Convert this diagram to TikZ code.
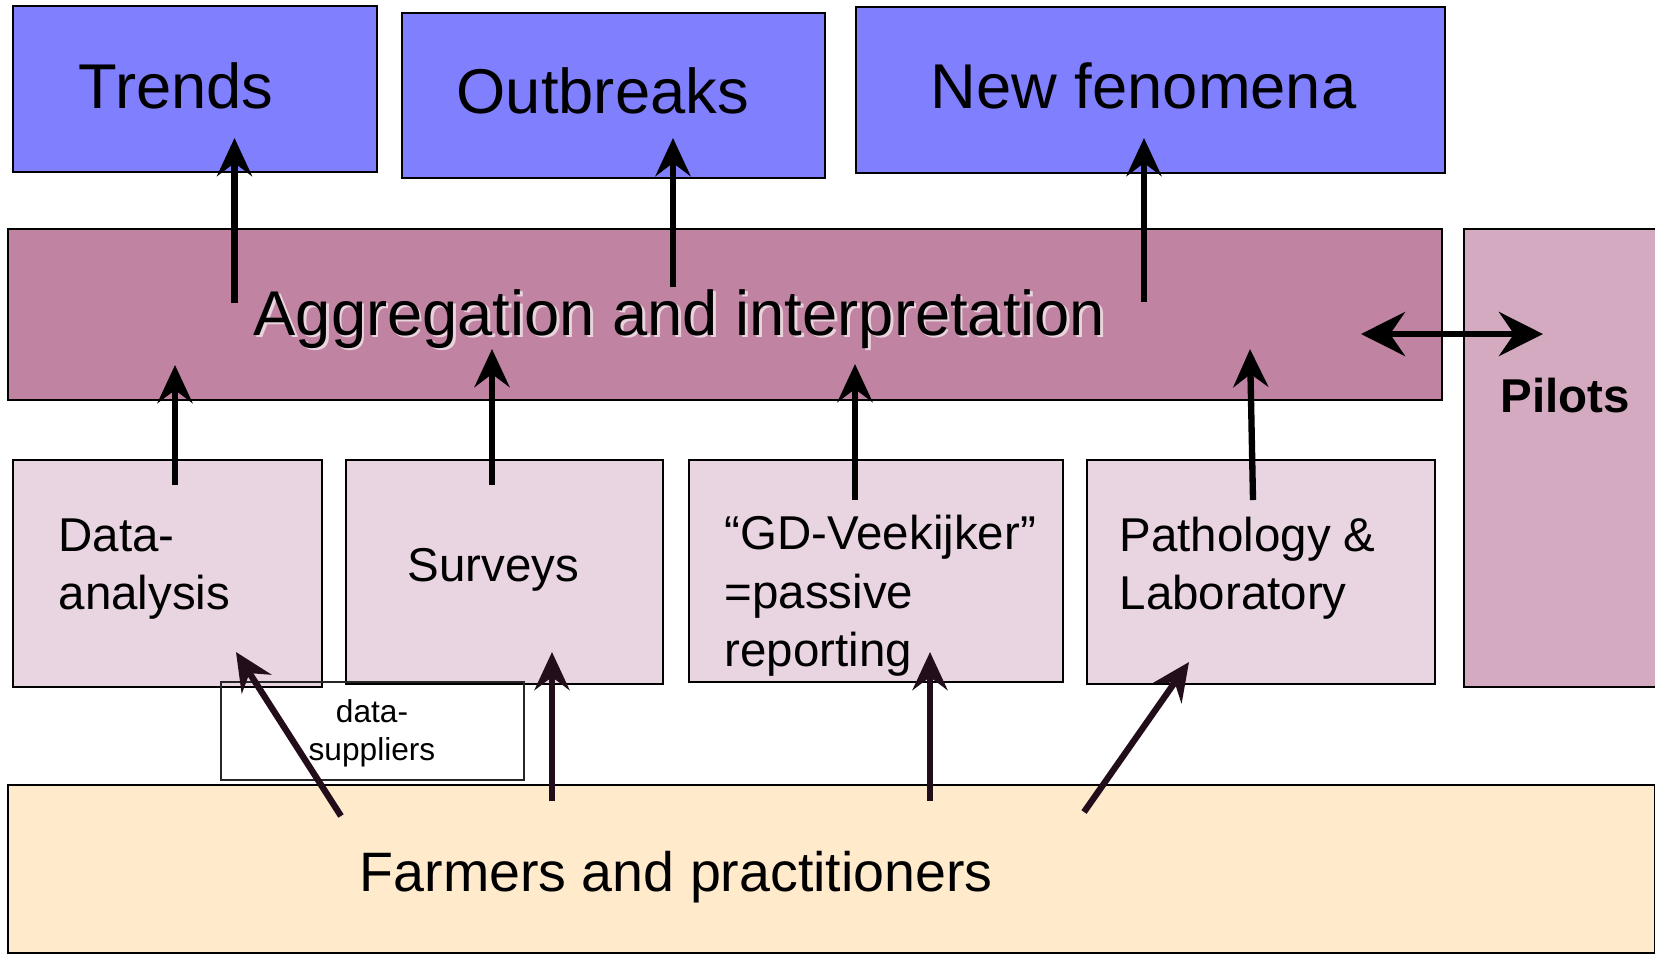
\documentclass[tikz,border=0pt]{standalone}
\usepackage{fontspec}
\setmainfont{Liberation Sans}
\usetikzlibrary{arrows.meta, positioning}

\definecolor{resultblue}{RGB}{128,128,255}
\definecolor{aggmauve}{RGB}{192,132,162}
\definecolor{pilotpink}{RGB}{212,170,192}
\definecolor{sourcepink}{RGB}{233,213,225}
\definecolor{farmcream}{RGB}{255,234,204}
\definecolor{supplyink}{RGB}{34,14,26}

\newcommand{\lblbig}{\fontsize{18}{21.6}\selectfont}
\newcommand{\lblmid}{\fontsize{13.5}{16.5}\selectfont}
\newcommand{\lblfarm}{\fontsize{15.8}{19}\selectfont}
\newcommand{\lblsmall}{\fontsize{9}{10.6}\selectfont}

\tikzset{
  box/.style={draw=black, line width=0.6pt, inner sep=0pt, anchor=north west},
  lbl/.style={inner sep=0pt, anchor=base west, align=left},
  report/.style={line width=1.8pt, -{Stealth[length=3.8mm, width=3.5mm, inset=1.3mm]}},
  supply/.style={report, draw=supplyink, fill=supplyink},
  pilotlink/.style={line width=1.8pt, {Stealth[length=4.4mm, width=4.4mm, inset=1.5mm]}-{Stealth[length=4.4mm, width=4.4mm, inset=1.5mm]}}
}

\begin{document}
\begin{tikzpicture}[x=0.01cm, y=-0.01cm]
  \useasboundingbox (0,0) rectangle (1655,956);
  % what comes out
  \node[box, fill=resultblue, minimum width=3.64cm, minimum height=1.66cm] (trends) at (12,5) {};
  \node[box, fill=resultblue, minimum width=4.23cm, minimum height=1.65cm] (outbreaks) at (401,12) {};
  \node[box, fill=resultblue, minimum width=5.89cm, minimum height=1.66cm] (newfen) at (855,6) {};
  % aggregation and pilots
  \node[box, fill=aggmauve, minimum width=14.33cm, minimum height=1.71cm] (agg) at (7,228) {};
  \node[box, fill=pilotpink, minimum width=2.20cm, minimum height=4.58cm] (pilots) at (1463,228) {};
  % sources
  \node[box, fill=sourcepink, minimum width=3.09cm, minimum height=2.27cm] (dataan) at (12,459) {};
  \node[box, fill=sourcepink, minimum width=3.17cm, minimum height=2.24cm] (surveys) at (345,459) {};
  \node[box, fill=sourcepink, minimum width=3.74cm, minimum height=2.22cm] (gdvee) at (688,459) {};
  \node[box, fill=sourcepink, minimum width=3.48cm, minimum height=2.24cm] (patho) at (1086,459) {};
  \node[box, line width=0.5pt, draw=black!85, minimum width=3.03cm, minimum height=0.98cm] (suppliers) at (220,681) {};
  \node[box, fill=farmcream, minimum width=16.46cm, minimum height=1.68cm] (farmers) at (7,784) {};

  % labels (base = last line)
  \node[lbl, font=\lblbig] (trendslbl) at (78,108) {Trends};
  \node[lbl, font=\lblbig] (outbreakslbl) at (456,113) {Outbreaks};
  \node[lbl, font=\lblbig] (newfenlbl) at (930,108) {New fenomena};
  \node[lbl, font=\lblbig, text=white!65!aggmauve] (aggshadow) at (255.5,337.5) {Aggregation and interpretation};
  \node[lbl, font=\lblbig] (agglbl) at (253,335) {Aggregation and interpretation};
  \node[lbl, font=\lblmid\bfseries] (pilotslbl) at (1500,412) {Pilots};
  \node[lbl, font=\lblmid] (dataanlbl) at (58,609) {Data-\\analysis};
  \node[lbl, font=\lblmid] (surveyslbl) at (407,581) {Surveys};
  \node[lbl, font=\lblmid] (gdveelbl) at (724,666) {“GD-Veekijker”\\=passive\\reporting};
  \node[lbl, font=\lblmid] (patholbl) at (1119,609) {Pathology \&\\Laboratory};
  \node[lbl, font=\lblsmall, anchor=base, align=center] (supplierslbl) at (372,760) {data-\\suppliers};
  \node[lbl, font=\lblfarm] (farmerslbl) at (359,891) {Farmers and practitioners};

  % arrow ends
  \coordinate (trendsfoot) at (234.5,303);   \coordinate (trendshead) at (234.5,138);
  \coordinate (outbrfoot) at (673,287);      \coordinate (outbrhead) at (673,138);
  \coordinate (newfenfoot) at (1144,302);    \coordinate (newfenhead) at (1144,138);
  \coordinate (dataanfoot) at (175,485);     \coordinate (dataanhead) at (175,365);
  \coordinate (surveysfoot) at (492,485);    \coordinate (surveyshead) at (492,349);
  \coordinate (gdveefoot) at (855,500);      \coordinate (gdveehead) at (855,364);
  \coordinate (pathofoot) at (1253,500);     \coordinate (pathohead) at (1250,349);
  \coordinate (farmA) at (341,816);          \coordinate (dataanin) at (236,652);
  \coordinate (farmB) at (552,801);          \coordinate (surveysin) at (552,652);
  \coordinate (farmC) at (930,801);          \coordinate (gdveein) at (930,652);
  \coordinate (farmD) at (1084,812);         \coordinate (pathoin) at (1189,662);
  \coordinate (agglink) at (1361,334);       \coordinate (pilotlinkend) at (1543,334);

  \foreach \from/\to in {trendsfoot/trendshead, outbrfoot/outbrhead, newfenfoot/newfenhead,
      dataanfoot/dataanhead, surveysfoot/surveyshead, gdveefoot/gdveehead, pathofoot/pathohead}
    \draw[report] (\from) -- (\to);
  \foreach \from/\to in {farmA/dataanin, farmB/surveysin, farmC/gdveein, farmD/pathoin}
    \draw[supply] (\from) -- (\to);
  \draw[pilotlink] (agglink) -- (pilotlinkend);
\end{tikzpicture}
\end{document}
